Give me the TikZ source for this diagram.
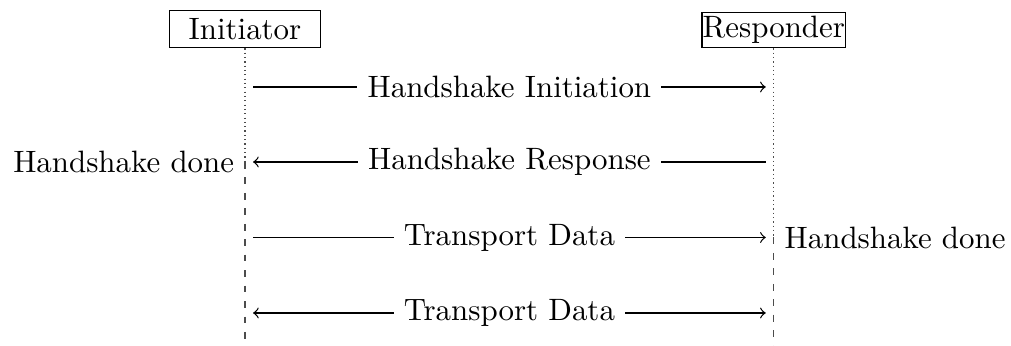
\documentclass[tikz,border=0pt]{standalone}
\begin{document}
\begin{tikzpicture}[x=0.3236pt, y=-0.3236pt,
  actor/.style={draw, inner sep=0pt, anchor=south},
  msg/.style={shorten <=2.6pt, shorten >=2.6pt},
  msglabel/.style={fill=white, midway},
  early/.style={black!70, dash pattern=on 0.4pt off 1pt},
  late/.style={black!70, dash pattern=on 2.2pt off 2.8pt}]
  \useasboundingbox (0,0) rectangle (1011,346);

  % participants
  \node[actor, minimum width=49.1pt, minimum height=12.07pt] (ini) at (245,48.3) {Initiator};
  \node[actor, minimum width=46.4pt, minimum height=11.33pt] (res) at (773.8,48.3) {Responder};

  % message rows on each lifeline
  \coordinate (i1) at (245,87);   \coordinate (r1) at (773.8,87);
  \coordinate (i2) at (245,162);  \coordinate (r2) at (773.8,162);
  \coordinate (i3) at (245,237.5);\coordinate (r3) at (773.8,237.5);
  \coordinate (i4) at (245,313);  \coordinate (r4) at (773.8,313);
  \coordinate (iend) at (245,346); \coordinate (rend) at (773.8,346);

  % lifelines: dotted while handshaking, dashed afterwards
  \draw[early] (ini.south) -- (i2);
  \draw[late] (i2) -- (iend);
  \draw[early] (res.south) -- (r3);
  \draw[late] (r3) -- (rend);

  % messages
  \draw[msg, ->] (i1) -- node[msglabel] {Handshake Initiation} (r1);
  \draw[msg, ->] (r2) -- node[msglabel] {Handshake Response} (i2);
  \draw[msg, ->] (i3) -- node[msglabel] {Transport Data} (r3);
  \draw[msg, <->] (i4) -- node[msglabel] {Transport Data} (r4);

  % state notes
  \node[anchor=east] (idone) at (i2) {Handshake done};
  \node[anchor=west] (rdone) at (r3) {Handshake done};
\end{tikzpicture}
\end{document}
